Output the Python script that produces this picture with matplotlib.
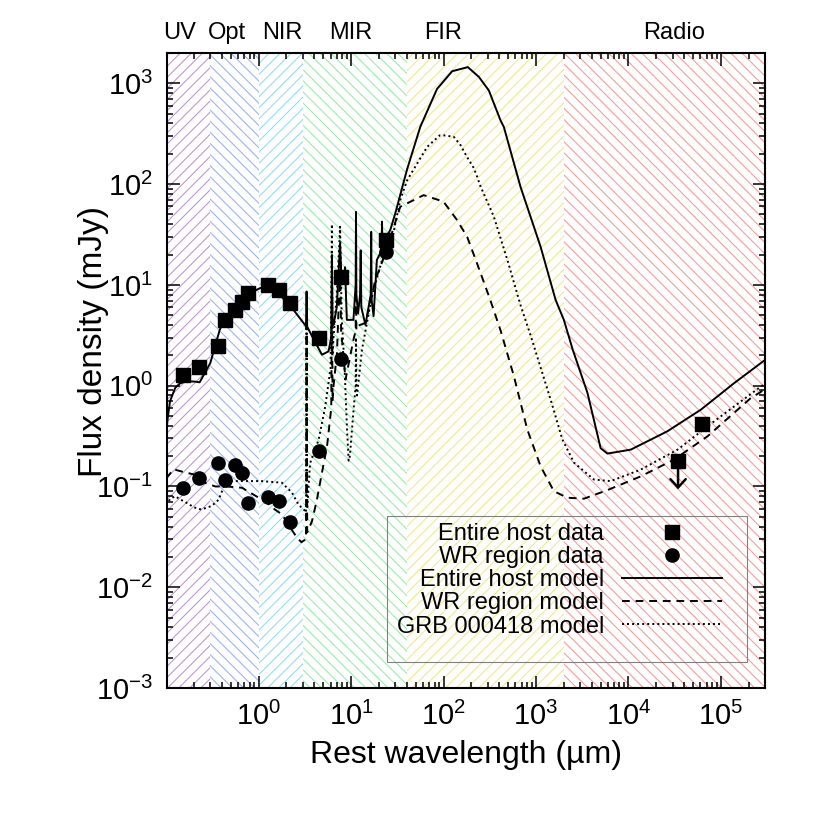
import numpy as np
import matplotlib
matplotlib.use('Agg')
import matplotlib.pyplot as plt
from matplotlib.patches import Rectangle
from matplotlib.ticker import LogLocator, NullFormatter

plt.rcParams['font.family'] = ['Liberation Sans', 'DejaVu Sans']
plt.rcParams['mathtext.default'] = 'regular'
plt.rcParams['axes.unicode_minus'] = False
plt.rcParams['hatch.linewidth'] = 0.75

# wavelength bands (rest frame, micron)
band_names = ['UV', 'Opt', 'NIR', 'MIR', 'FIR', 'Radio']
band_edges = [0.1, 0.3, 1.0, 3.0, 40.0, 2000.0, 3e5]
band_label_x = [0.138, 0.45, 1.8, 10.0, 100.0, 3.1e4]
band_colors = ['#bb92d4', '#94b2f0', '#8ddcf5', '#94eea4', '#ecea86', '#f59a92']
band_hatch = ['///', '\\\\\\', '///', '\\\\\\', '///', '\\\\\\']

# entire host photometry (mJy)
host_x = [0.151, 0.229, 0.361, 0.434, 0.55, 0.658, 0.775, 1.26, 1.64, 2.16, 4.49, 7.78, 23.6, 34400, 62200]
host_y = [1.28, 1.55, 2.49, 4.50, 5.65, 6.84, 8.28, 10.0, 8.9, 6.59, 2.97, 12.1, 27.9, 0.18, 0.42]
host_uplim = [False] * 13 + [True, False]

# WR region photometry (mJy)
wr_x = [0.151, 0.229, 0.361, 0.434, 0.55, 0.658, 0.775, 1.26, 1.64, 2.19, 4.49, 7.78, 23.6]
wr_y = [0.097, 0.122, 0.172, 0.117, 0.165, 0.137, 0.069, 0.078, 0.072, 0.0443, 0.224, 1.84, 21.4]

# model SEDs
host_model_x = [0.1, 0.103, 0.11, 0.125, 0.14, 0.16, 0.2, 0.23, 0.3, 0.38,
                0.43, 0.55, 0.66, 0.8, 1.04, 1.3, 1.71, 2.38, 3.25, 3.3,
                3.35, 4.0, 4.84, 5.7, 6.1, 6.2, 6.3, 6.45, 7.0, 7.6,
                7.8, 8.3, 8.6, 8.99, 10.6, 11.2, 11.3, 11.4, 11.9, 12.5,
                12.7, 12.9, 14.3, 16.3, 16.5, 16.7, 17.5, 19.0, 20.7, 21.4,
                21.6, 21.8, 23.0, 26.5, 30.0, 40.3, 56.0, 85.0, 124.0, 183.0,
                241.0, 309.0, 413.0, 449.0, 680.0, 1120.0, 1630.0, 2000.0, 2500.0, 3600.0,
                5000.0, 5920.0, 10600.0, 26400.0, 60700.0, 1.39e5, 3e5]
host_model_y = [0.3, 0.45, 0.7, 0.95, 1.05, 1.1, 1.1, 1.08, 1.68, 3.6,
                4.6, 5.8, 7.0, 8.3, 9.3, 9.6, 7.9, 5.65, 3.9, 8.6,
                3.85, 2.8, 2.03, 2.19, 3.0, 19.8, 4.5, 4.0, 6.0, 25.8,
                14.0, 11.2, 15.0, 4.5, 4.5, 10.0, 53.0, 8.0, 5.2, 8.0,
                22.0, 6.0, 4.0, 8.0, 33.6, 7.0, 4.9, 17.7, 20.7, 25.0,
                42.5, 24.0, 28.0, 35.0, 51.0, 140.0, 370.0, 880.0, 1320.0, 1450.0,
                1160.0, 850.0, 430.0, 369.0, 94.0, 24.0, 7.1, 4.5, 2.27, 0.85,
                0.24, 0.212, 0.232, 0.353, 0.578, 1.06, 1.8]

wr_model_x = [0.1, 0.12, 0.15, 0.21, 0.26, 0.34, 0.45, 0.66, 0.88, 1.2,
              1.5, 1.78, 2.38, 2.6, 2.9, 3.25, 3.3, 3.35, 3.77, 4.27,
              4.84, 5.49, 6.1, 6.2, 6.3, 6.46, 7.03, 7.6, 7.8, 8.7,
              10.6, 11.2, 11.3, 11.4, 11.6, 14.3, 18.3, 23.5, 34.0, 61.0,
              100.0, 140.0, 180.0, 230.0, 320.0, 415.0, 577.0, 805.0, 1120.0, 1560.0,
              2180.0, 3300.0, 5920.0, 13600.0, 31200.0, 71800.0, 2.11e5, 3e5]
wr_model_y = [0.12, 0.148, 0.14, 0.13, 0.109, 0.1, 0.1, 0.097, 0.083, 0.07,
              0.059, 0.053, 0.035, 0.031, 0.028, 0.03, 3.9, 0.035, 0.045, 0.074,
              0.137, 0.25, 0.6, 8.0, 0.7, 1.0, 2.1, 15.0, 3.5, 1.15,
              2.85, 3.5, 12.0, 3.6, 3.9, 4.2, 11.2, 20.6, 59.6, 77.8,
              67.0, 44.0, 30.0, 16.4, 7.1, 3.5, 1.24, 0.367, 0.159, 0.0898,
              0.0773, 0.0756, 0.092, 0.126, 0.185, 0.315, 0.755, 0.92]

grb_model_x = [0.1, 0.11, 0.125, 0.14, 0.17, 0.2, 0.24, 0.31, 0.37, 0.42,
               0.51, 0.66, 1.08, 1.78, 2.29, 2.7, 3.19, 3.25, 3.3, 3.35,
               3.6, 4.45, 5.25, 6.0, 6.2, 6.3, 6.45, 7.0, 7.6, 7.9,
               8.5, 9.0, 9.4, 9.7, 10.5, 11.2, 11.3, 11.4, 11.6, 13.1,
               16.8, 21.6, 27.7, 34.0, 40.3, 51.8, 66.4, 91.0, 100.0, 129.0,
               152.0, 180.0, 212.0, 231.0, 250.0, 350.0, 490.0, 680.0, 870.0, 1440.0,
               1930.0, 2580.0, 4240.0, 6430.0, 13600.0, 34000.0, 84600.0, 2.5e5, 3e5]
grb_model_y = [0.065, 0.075, 0.08, 0.075, 0.068, 0.062, 0.059, 0.064, 0.074, 0.1,
               0.113, 0.113, 0.113, 0.109, 0.087, 0.066, 0.057, 0.055, 3.9, 0.06,
               0.17, 0.29, 0.62, 1.5, 40.0, 2.0, 3.0, 8.0, 37.8, 5.0,
               1.5, 0.4, 0.18, 0.2, 0.5, 1.0, 3.0, 0.9, 0.8, 2.27,
               7.7, 17.7, 28.0, 69.5, 109.0, 160.0, 234.0, 305.0, 305.0, 295.0,
               245.0, 185.0, 145.0, 118.0, 96.0, 47.5, 17.7, 6.3, 3.2, 0.727,
               0.292, 0.172, 0.117, 0.113, 0.147, 0.232, 0.443, 0.93, 1.05]

fig = plt.figure(figsize=(8.3, 8.21), dpi=100)
ax = fig.add_axes([0.2012, 0.162, 0.7205, 0.7734])
ax.set_xscale('log')
ax.set_yscale('log')
ax.set_xlim(0.102, 3e5)
ax.set_ylim(1e-3, 2e3)

# hatched band backgrounds
for i, name in enumerate(band_names):
    ax.axvspan(band_edges[i], band_edges[i + 1], facecolor='none',
               edgecolor=band_colors[i], hatch=band_hatch[i], lw=0, zorder=0)
    ax.text(band_label_x[i], 1.015, name, transform=ax.get_xaxis_transform(),
            ha='center', va='bottom', fontsize=17)

l_host, = ax.plot(host_model_x, host_model_y, '-', color='k', lw=1.4, zorder=2)
l_wr, = ax.plot(wr_model_x, wr_model_y, color='k', lw=1.4, ls=(0, (4, 3)), zorder=2)
l_grb, = ax.plot(grb_model_x, grb_model_y, color='k', lw=1.4, ls=(0, (1, 1.6)), zorder=2)

hx = np.array(host_x)
hy = np.array(host_y)
ul = np.array(host_uplim)
p_host, = ax.plot(hx, hy, 's', color='k', ms=9.5, zorder=3, ls='none')
p_wr, = ax.plot(wr_x, wr_y, 'o', color='k', ms=9.5, zorder=3, ls='none')

# upper limit arrows
for x, y in zip(hx[ul], hy[ul]):
    ax.annotate('', xy=(x, y * 0.52), xytext=(x, y),
                arrowprops=dict(arrowstyle='->,head_length=0.6,head_width=0.55',
                                lw=1.8, color='k', shrinkA=0, shrinkB=0), zorder=3)

ax.xaxis.set_minor_locator(LogLocator(base=10, subs=np.arange(2, 10), numticks=100))
ax.yaxis.set_minor_locator(LogLocator(base=10, subs=np.arange(2, 10), numticks=100))
ax.xaxis.set_minor_formatter(NullFormatter())
ax.yaxis.set_minor_formatter(NullFormatter())
ax.tick_params(which='both', direction='in', top=True, right=True)
ax.tick_params(which='major', length=9, width=1.1, labelsize=21, pad=10)
ax.tick_params(which='minor', length=4.5, width=1.1)
for s in ax.spines.values():
    s.set_linewidth(1.5)

ax.set_xlabel('Rest wavelength (µm)', fontsize=23)
ax.set_ylabel('Flux density (mJy)', fontsize=24)
ax.xaxis.set_label_coords(0.5, -0.082)
ax.yaxis.set_label_coords(-0.097, 0.545)

leg = ax.legend([p_host, p_wr, l_host, l_wr, l_grb],
                ['Entire host data', 'WR region data', 'Entire host model',
                 'WR region model', 'GRB 000418 model'],
                loc='upper right', bbox_to_anchor=(0.928, 0.26), frameon=False,
                markerfirst=False, fontsize=17, handlelength=4.24,
                handletextpad=0.76, labelspacing=0.05, borderpad=0,
                borderaxespad=0, numpoints=1)
ax.add_patch(Rectangle((0.368, 0.041), 0.602, 0.23, transform=ax.transAxes,
                       fill=False, edgecolor='#808080', lw=0.8, zorder=4))

fig.savefig('out.png', dpi=100)
